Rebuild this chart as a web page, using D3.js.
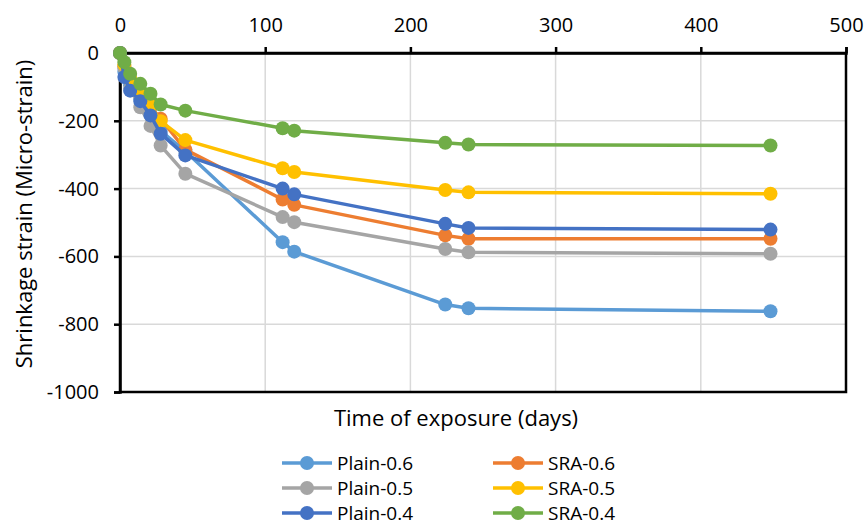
<!DOCTYPE html>
<html lang="en">
<head>
    <meta charset="UTF-8">
    <title>Shrinkage strain</title>
    <script src="https://cdn.jsdelivr.net/npm/d3@7"></script>
    <style>
        body { margin: 0; background: #fff; }
        text { font-family: "Open Sans", "Noto Sans", sans-serif; fill: #000; }
    </style>
</head>
<body>
    <script>
        // days of exposure
        const days = [0, 3, 7, 14, 21, 28, 45, 112, 120, 224, 240, 448];
        const plain06 = [0, -55, -95, -135, -180, -230, -290, -558, -586, -742, -753, -762];
        const sra06 = [0, -40, -80, -120, -160, -194, -285, -432, -448, -538, -548, -548];
        const plain05 = [0, -45, -105, -160, -215, -273, -356, -484, -499, -578, -588, -592];
        const sra05 = [0, -35, -75, -120, -155, -201, -257, -340, -351, -404, -411, -415];
        const plain04 = [0, -71, -111, -142, -184, -238, -302, -400, -417, -504, -516, -521];
        const sra04 = [0, -27, -61, -91, -120, -152, -170, -222, -229, -265, -270, -273];
        const seriesNames = ['Plain-0.6', 'SRA-0.6', 'Plain-0.5', 'SRA-0.5', 'Plain-0.4', 'SRA-0.4'];
        const seriesColors = ['#5B9BD5', '#ED7D31', '#A5A5A5', '#FFC000', '#4472C4', '#70AD47'];
        const xTicks = [0, 100, 200, 300, 400, 500];
        const yTicks = [0, -200, -400, -600, -800, -1000];

        const series = [plain06, sra06, plain05, sra05, plain04, sra04].map((vals, i) => ({
            name: seriesNames[i], color: seriesColors[i],
            points: vals.map((v, j) => ({x: days[j], y: v}))
        }));

        const width = 865, height = 527;
        const m = {left: 120, right: 846, top: 53, bottom: 392};

        const x = d3.scaleLinear().domain([0, 500]).range([m.left, m.right]);
        const y = d3.scaleLinear().domain([-1000, 0]).range([m.bottom, m.top]);

        const svg = d3.select("body").append('svg').attr("width", width).attr("height", height);

        // gridlines
        svg.append('g').selectAll('line').data(xTicks.slice(1, -1)).enter().append('line')
            .attr('x1', d => x(d)).attr('x2', d => x(d)).attr('y1', m.top).attr('y2', m.bottom)
            .attr('stroke', '#D9D9D9').attr('stroke-width', 1.5);
        svg.append('g').selectAll('line').data(yTicks.slice(1, -1)).enter().append('line')
            .attr('x1', m.left).attr('x2', m.right).attr('y1', d => y(d)).attr('y2', d => y(d))
            .attr('stroke', '#D9D9D9').attr('stroke-width', 1.5);

        // plot border
        svg.append('rect').attr('x', m.left).attr('y', m.top)
            .attr('width', m.right - m.left).attr('height', m.bottom - m.top)
            .attr('fill', 'none').attr('stroke', '#000').attr('stroke-width', 2.5);

        // top axis
        const xAxis = svg.append('g').attr('transform', `translate(0,${m.top})`)
            .call(d3.axisTop(x).tickValues(xTicks).tickFormat(d => String(d)).tickSize(6).tickPadding(15));
        // left axis
        const yAxis = svg.append('g').attr('transform', `translate(${m.left},0)`)
            .call(d3.axisLeft(y).tickValues(yTicks).tickFormat(d => String(d)).tickSize(6).tickPadding(15));
        [xAxis, yAxis].forEach(a => {
            a.select('.domain').attr('stroke', '#000').attr('stroke-width', 2.5);
            a.selectAll('.tick line').attr('stroke', '#000').attr('stroke-width', 2.5);
            a.selectAll('.tick text').style('font-size', '20px').attr('fill', '#000');
        });

        // lines and markers
        const line = d3.line().x(d => x(d.x)).y(d => y(d.y));
        const g = svg.append('g');
        series.forEach(s => {
            const sg = g.append('g');
            sg.append('path').attr('d', line(s.points)).attr('fill', 'none')
                .attr('stroke', s.color).attr('stroke-width', 3.5).attr('stroke-linejoin', 'round');
            sg.selectAll('circle').data(s.points).enter().append('circle')
                .attr('cx', d => x(d.x)).attr('cy', d => y(d.y)).attr('r', 7).attr('fill', s.color);
        });

        // axis titles
        svg.append('text').attr('x', 456).attr('y', 426)
            .attr('text-anchor', 'middle').style('font-size', '22px').text('Time of exposure (days)');
        svg.append('text').attr('transform', 'translate(32,214) rotate(-90)')
            .attr('text-anchor', 'middle').style('font-size', '22px').text('Shrinkage strain (Micro-strain)');

        // legend
        const legend = svg.append('g');
        series.forEach((s, i) => {
            const col = i % 2, row = Math.floor(i / 2);
            const lx = col === 0 ? 282 : 493, ly = 463 + row * 25;
            const lg = legend.append('g').attr('transform', `translate(${lx},${ly})`);
            lg.append('line').attr('x1', 0).attr('x2', 50).attr('y1', 0).attr('y2', 0)
                .attr('stroke', s.color).attr('stroke-width', 3.5);
            lg.append('circle').attr('cx', 25).attr('cy', 0).attr('r', 7).attr('fill', s.color);
            lg.append('text').attr('x', 55).attr('y', 0).attr('dy', '0.35em')
                .style('font-size', '19px').text(s.name);
        });
    </script>
</body>
</html>
